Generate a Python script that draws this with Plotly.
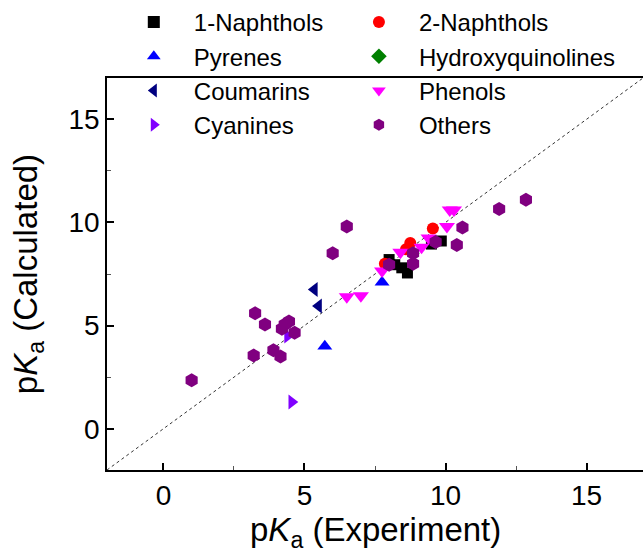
import plotly.graph_objects as go

# ---- data (pKa experiment vs calculated) ----
naph1_x = [8.0, 8.2, 8.45, 8.65, 9.5, 9.85]
naph1_y = [8.2, 7.95, 7.8, 7.55, 8.95, 9.1]

naph2_x = [7.85, 8.75, 9.55, 8.6]
naph2_y = [8.0, 9.0, 9.7, 8.7]

pyr_x = [5.72, 7.75]
pyr_y = [4.0, 7.1]

hq_x = [8.85]
hq_y = [8.5]

coum_x = [5.35, 5.5]
coum_y = [6.75, 5.95]

phen_x = [6.5, 7.0, 7.75, 8.4, 9.15, 9.4, 10.05, 10.15, 10.3]
phen_y = [6.4, 6.45, 7.65, 8.55, 8.8, 9.25, 9.8, 10.6, 10.6]

cyan_x = [4.55, 4.4]
cyan_y = [1.3, 4.5]

oth_x = [1.0, 3.2, 3.9, 4.15, 3.25, 3.6, 4.2, 4.45, 4.65, 4.3, 6.0, 6.5, 8.0,
         8.85, 8.85, 9.65, 10.4, 10.6, 11.9, 12.85]
oth_y = [2.35, 3.55, 3.8, 3.5, 5.6, 5.05, 4.85, 5.2, 4.65, 5.05, 8.5, 9.8, 7.95,
         8.5, 8.0, 9.05, 8.9, 9.75, 10.65, 11.1]

axis_range = [-2, 17]
tick_vals = [0, 5, 10, 15]

# (name, x, y, symbol, color, size, legend column)
series = [
    ("1-Naphthols", naph1_x, naph1_y, "square", "#000000", 11, "legend"),
    ("2-Naphthols", naph2_x, naph2_y, "circle", "#FF0000", 12, "legend2"),
    ("Pyrenes", pyr_x, pyr_y, "triangle-up", "#0000FF", 13, "legend"),
    ("Hydroxyquinolines", hq_x, hq_y, "diamond", "#008000", 10, "legend2"),
    ("Coumarins", coum_x, coum_y, "triangle-left", "#000080", 13, "legend"),
    ("Phenols", phen_x, phen_y, "triangle-down", "#FF00FF", 14, "legend2"),
    ("Cyanines", cyan_x, cyan_y, "triangle-right", "#8000FF", 13, "legend"),
    ("Others", oth_x, oth_y, "hexagon", "#800080", 14, "legend2"),
]

fig = go.Figure()

# y = x reference line
fig.add_trace(go.Scatter(x=axis_range, y=axis_range, mode="lines",
                         line=dict(color="#333333", width=1, dash="dot"),
                         showlegend=False, hoverinfo="skip"))

pad = "\u00a0\u00a0\u00a0"
for name, xs, ys, sym, col, sz, lg in series:
    fig.add_trace(go.Scatter(x=xs, y=ys, mode="markers", name=pad + name,
                             legend=lg,
                             marker=dict(symbol=sym, color=col, size=sz,
                                         line=dict(width=0))))

font_fam = "Liberation Sans, Arial, sans-serif"
axis_common = dict(
    range=axis_range, tickvals=tick_vals, ticks="inside", ticklen=7,
    tickwidth=1.5, tickcolor="#000000", showline=True, linecolor="#000000",
    linewidth=1.5, showgrid=False, zeroline=False,
    tickfont=dict(family=font_fam, size=28, color="#000000"),
    minor=dict(ticks="inside", ticklen=4, tickwidth=1, tickcolor="#555555",
               tickvals=[2.5, 7.5, 12.5]),
)

legend_common = dict(orientation="v", y=1.2, xanchor="left", yanchor="top",
                     bgcolor="rgba(0,0,0,0)", font=dict(size=24),
                     itemsizing="constant", tracegroupgap=0)

fig.update_layout(
    width=643, height=559,
    margin=dict(l=107, r=0, t=78, b=88.5, pad=0),
    paper_bgcolor="white", plot_bgcolor="white",
    font=dict(family=font_fam, color="#000000"),
    xaxis=dict(**axis_common, mirror=True),
    yaxis=dict(**axis_common),
    legend=dict(x=0.05, **legend_common),
    legend2=dict(x=0.47, **legend_common),
    showlegend=True,
    annotations=[
        dict(text="p<i>K</i><sub>a</sub> (Experiment)", xref="paper", yref="paper",
             x=0.5, y=-0.1, xanchor="center", yanchor="top", showarrow=False,
             font=dict(size=33)),
        dict(text="p<i>K</i><sub>a</sub> (Calculated)", xref="paper", yref="paper",
             x=-0.147, y=0.5, xanchor="center", yanchor="middle", showarrow=False,
             textangle=-90, font=dict(size=33)),
    ],
)

fig.write_html("out.html")
